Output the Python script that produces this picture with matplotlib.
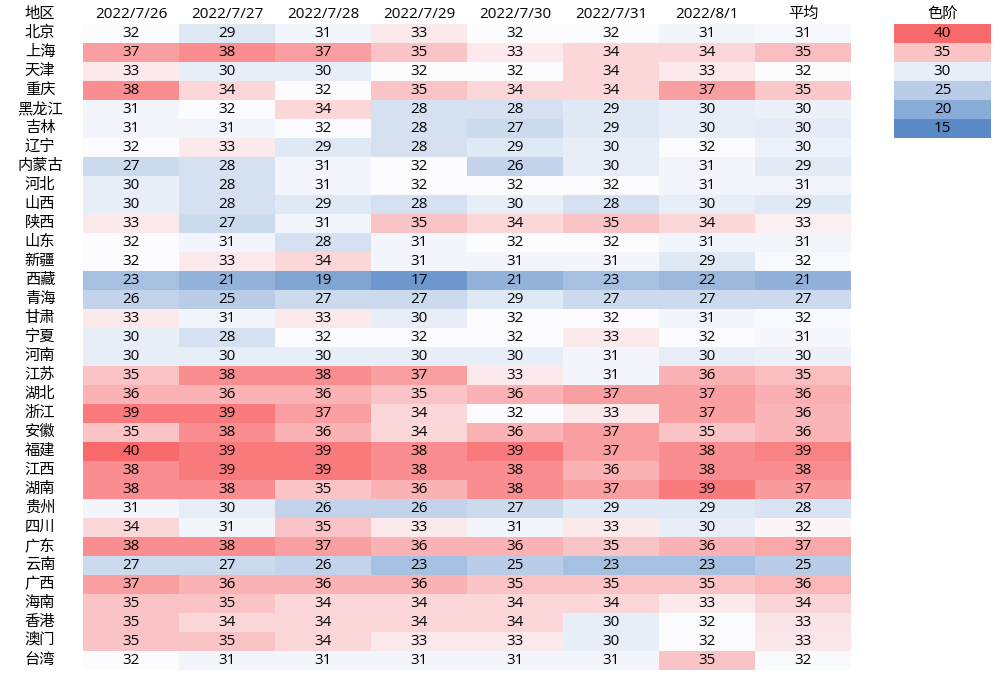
import numpy as np
import matplotlib.pyplot as plt
from matplotlib.colors import LinearSegmentedColormap, TwoSlopeNorm

plt.rcParams['font.family'] = ['Open Sans', 'Noto Sans CJK SC', 'DejaVu Sans']

regions = ['北京', '上海', '天津', '重庆', '黑龙江', '吉林', '辽宁', '内蒙古', '河北', '山西',
           '陕西', '山东', '新疆', '西藏', '青海', '甘肃', '宁夏', '河南', '江苏', '湖北',
           '浙江', '安徽', '福建', '江西', '湖南', '贵州', '四川', '广东', '云南', '广西',
           '海南', '香港', '澳门', '台湾']
dates = ['2022/7/26', '2022/7/27', '2022/7/28', '2022/7/29', '2022/7/30', '2022/7/31', '2022/8/1']

temps = [
    [32, 29, 31, 33, 32, 32, 31],
    [37, 38, 37, 35, 33, 34, 34],
    [33, 30, 30, 32, 32, 34, 33],
    [38, 34, 32, 35, 34, 34, 37],
    [31, 32, 34, 28, 28, 29, 30],
    [31, 31, 32, 28, 27, 29, 30],
    [32, 33, 29, 28, 29, 30, 32],
    [27, 28, 31, 32, 26, 30, 31],
    [30, 28, 31, 32, 32, 32, 31],
    [30, 28, 29, 28, 30, 28, 30],
    [33, 27, 31, 35, 34, 35, 34],
    [32, 31, 28, 31, 32, 32, 31],
    [32, 33, 34, 31, 31, 31, 29],
    [23, 21, 19, 17, 21, 23, 22],
    [26, 25, 27, 27, 29, 27, 27],
    [33, 31, 33, 30, 32, 32, 31],
    [30, 28, 32, 32, 32, 33, 32],
    [30, 30, 30, 30, 30, 31, 30],
    [35, 38, 38, 37, 33, 31, 36],
    [36, 36, 36, 35, 36, 37, 37],
    [39, 39, 37, 34, 32, 33, 37],
    [35, 38, 36, 34, 36, 37, 35],
    [40, 39, 39, 38, 39, 37, 38],
    [38, 39, 39, 38, 38, 36, 38],
    [38, 38, 35, 36, 38, 37, 39],
    [31, 30, 26, 26, 27, 29, 29],
    [34, 31, 35, 33, 31, 33, 30],
    [38, 38, 37, 36, 36, 35, 36],
    [27, 27, 26, 23, 25, 23, 23],
    [37, 36, 36, 36, 35, 35, 35],
    [35, 35, 34, 34, 34, 34, 33],
    [35, 34, 34, 34, 34, 30, 32],
    [35, 35, 34, 33, 33, 30, 32],
    [32, 31, 31, 31, 31, 31, 35],
]
avg_shown = [31, 35, 32, 35, 30, 30, 30, 29, 31, 29, 33, 31, 32, 21, 27, 32, 31, 30, 35, 36,
             36, 36, 39, 38, 37, 28, 32, 37, 25, 36, 34, 33, 33, 32]
scale_levels = [40, 35, 30, 25, 20, 15]

cmap = LinearSegmentedColormap.from_list('excel3', ['#5A8AC6', '#FCFCFF', '#F8696B'])
norm = TwoSlopeNorm(vmin=15, vcenter=32, vmax=40)

data = np.array(temps, dtype=float)
avg_color = data.mean(axis=1)
grid = np.column_stack([data, avg_color])
labels = np.column_stack([data.astype(int), avg_shown])
col_names = dates + ['平均']

W, H = 1004, 688
fig = plt.figure(figsize=(W / 100, H / 100), dpi=100)

n_rows, n_cols = grid.shape
row_h, col_w = 19, 96
left, top = 83, 24
ax = fig.add_axes([left / W, 1 - (top + n_rows * row_h) / H, n_cols * col_w / W, n_rows * row_h / H])
ax.pcolormesh(np.arange(n_cols + 1), np.arange(n_rows + 1), grid, cmap=cmap, norm=norm)
ax.set_xlim(0, n_cols)
ax.set_ylim(n_rows, 0)
ax.axis('off')
fs = 11
for i in range(n_rows):
    ax.text(-43 / col_w, i + 0.5, regions[i], ha='center', va='center', fontsize=fs)
    for j in range(n_cols):
        ax.text(j + 0.5, i + 0.5, str(labels[i, j]), ha='center', va='center', fontsize=fs)
ax.text(-43 / col_w, -0.5, '地区', ha='center', va='center', fontsize=fs)
for j, name in enumerate(col_names):
    ax.text(j + 0.5, -0.5, name, ha='center', va='center', fontsize=fs)

# colour scale legend
lx, lw = 894, 97
lax = fig.add_axes([lx / W, 1 - (top + len(scale_levels) * row_h) / H, lw / W, len(scale_levels) * row_h / H])
lvl = np.array(scale_levels, dtype=float).reshape(-1, 1)
lax.pcolormesh([0, 1], np.arange(len(scale_levels) + 1), lvl, cmap=cmap, norm=norm)
lax.set_xlim(0, 1)
lax.set_ylim(len(scale_levels), 0)
lax.axis('off')
for k, v in enumerate(scale_levels):
    lax.text(0.5, k + 0.5, str(v), ha='center', va='center', fontsize=fs)
lax.text(0.5, -0.5, '色阶', ha='center', va='center', fontsize=fs)

fig.savefig('out.png', dpi=100)
